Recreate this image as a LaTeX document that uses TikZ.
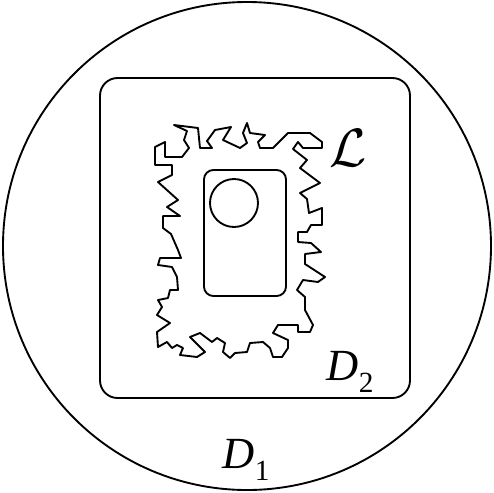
\documentclass[tikz,border=0pt]{standalone}
\usepackage{graphicx}
\usepackage{fontspec}
\setmainfont{Liberation Serif}
\newcommand{\dlab}[1]{\textit{D}\raisebox{-0.28em}{\fontsize{25}{28}\selectfont #1}}
\begin{document}
\begin{tikzpicture}[x=0.03cm,y=-0.03cm,line width=1.6pt,line join=round]
\useasboundingbox (0,0) rectangle (494,492);
\fontsize{38}{44}\selectfont
\draw (247,246) circle (244);
\draw[rounded corners=15] (100,78) rectangle (410,398);
\draw[rounded corners=8] (204,170) rectangle (286,296);
\draw (234,203) circle (24);
% jagged loop
\draw (155,147)--(165,142)--(165,157)--(182,157)--(189,148)--(184,140)--(187,131)--(174,125)--(198,128)--(200,148)--(212,148)--(207,141)--(215,130)--(231,127)
 --(223,140)--(240,148)--(247,143)--(243,133)--(247,123)--(250,133)--(265,135)--(258,142)--(260,148)--(273,148)--(288,133)--(310,133)--(322,142)--(322,148)
 --(303,148)--(298,142)--(293,149)--(307,160)--(300,168)--(320,183)--(300,193)--(307,199)--(309,213)--(322,208)--(322,225)--(311,225)--(307,232)--(298,232)
 --(298,242)--(311,243)--(321,252)--(305,254)--(305,264)--(325,277)--(318,282)--(303,280)--(297,290)--(305,297)--(305,310)--(313,325)--(310,332)--(298,332)
 --(298,325)--(278,325)--(273,333)--(288,340)--(288,348)--(282,357)--(273,357)--(270,348)--(263,342)--(250,343)--(247,352)--(235,353)--(230,358)--(223,352)
 --(225,343)--(217,338)--(212,342)--(200,333)--(190,337)--(205,352)--(197,357)--(180,355)--(183,348)--(177,345)--(172,348)--(167,342)--(158,347)--(157,332)
 --(170,323)--(157,315)--(162,307)--(158,300)--(168,298)--(170,290)--(178,290)--(177,277)--(172,267)--(158,265)--(160,258)--(181,258)--(178,250)--(171,234)
 --(163,228)--(163,216)--(180,216)--(167,207)--(178,200)--(158,182)--(172,175)--(172,165)--(155,165)--cycle;
\node (lcurve) at (348,148) {\scalebox{1.85}{$\mathcal{L}$}};
\node (dtwo) at (350,372) {\dlab{2}};
\node (done) at (246,460) {\dlab{1}};
\end{tikzpicture}
\end{document}
